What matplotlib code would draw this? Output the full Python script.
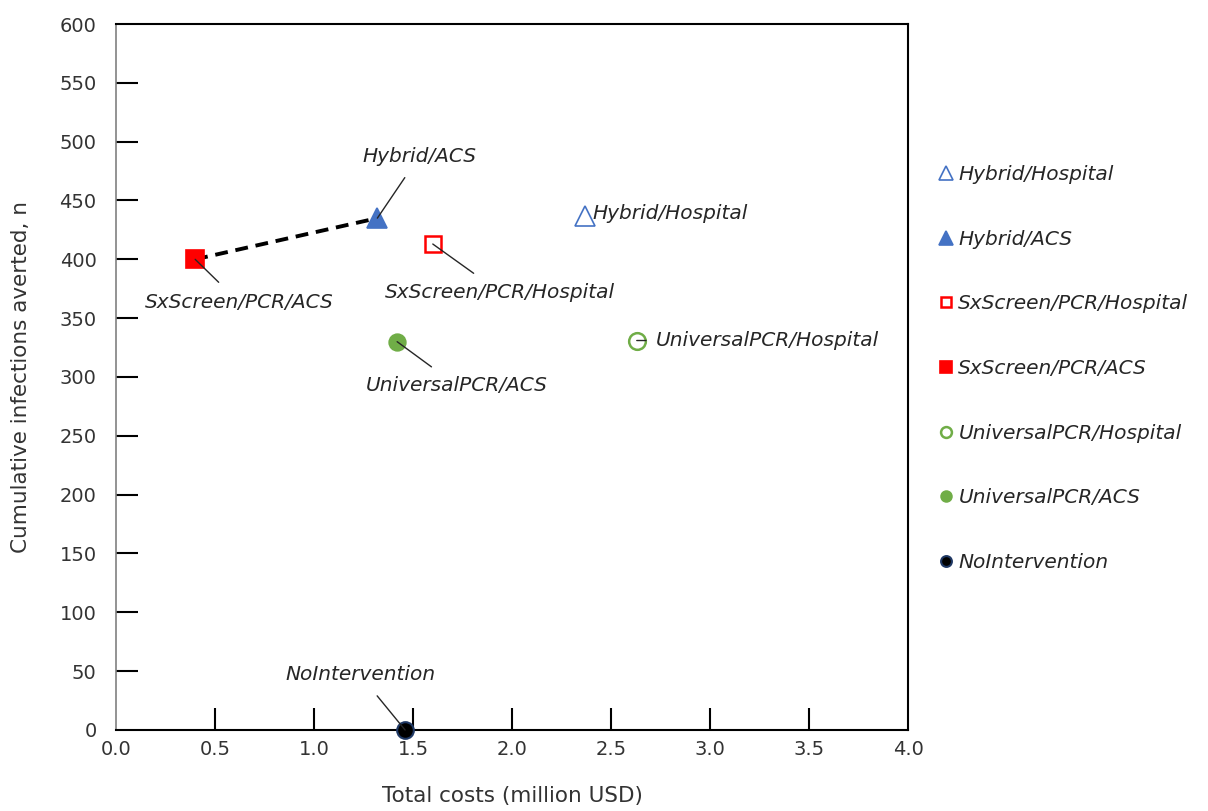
import matplotlib
matplotlib.use("Agg")
import matplotlib.pyplot as plt
from matplotlib.lines import Line2D

plt.rcParams['font.family'] = ['DejaVu Sans']

# strategies: (name, cost in million USD, infections averted)
names = ["Hybrid/Hospital", "Hybrid/ACS", "SxScreen/PCR/Hospital", "SxScreen/PCR/ACS",
         "UniversalPCR/Hospital", "UniversalPCR/ACS", "NoIntervention"]
costs = [2.37, 1.32, 1.60, 0.40, 2.63, 1.42, 1.46]
averted = [437, 435, 413, 400, 331, 330, 0]

# efficiency frontier
frontier = ["SxScreen/PCR/ACS", "Hybrid/ACS"]

blue = "#4472C4"
red = "#FF0000"
green = "#70AD47"
styles = {
    "Hybrid/Hospital":       dict(marker="^", mfc="white", mec=blue, ms=15, mew=1.2),
    "Hybrid/ACS":            dict(marker="^", mfc=blue, mec=blue, ms=15, mew=1.2),
    "SxScreen/PCR/Hospital": dict(marker="s", mfc="white", mec=red, ms=12, mew=1.8),
    "SxScreen/PCR/ACS":      dict(marker="s", mfc=red, mec=red, ms=13, mew=1.2),
    "UniversalPCR/Hospital": dict(marker="o", mfc="white", mec=green, ms=12, mew=1.8),
    "UniversalPCR/ACS":      dict(marker="o", mfc=green, mec=green, ms=12, mew=1.2),
    "NoIntervention":        dict(marker="o", mfc="black", mec="#1F3864", ms=12, mew=1.5),
}

# label offsets in pixels, alignment, leader line shrink (None = no line)
labels = {
    "Hybrid/ACS":            ((42, 62), "center", 8),
    "SxScreen/PCR/ACS":      ((44, -43), "center", 8),
    "SxScreen/PCR/Hospital": ((67, -48), "center", 8),
    "UniversalPCR/ACS":      ((60, -44), "center", 8),
    "NoIntervention":        ((-45, 55), "center", 8),
    "Hybrid/Hospital":       ((7, 2), "left", None),
    "UniversalPCR/Hospital": ((19, 0), "left", 5),
}

fig = plt.figure(figsize=(12.08, 8.11), dpi=100)
ax = fig.add_axes([0.096, 0.0999, 0.6557, 0.8705])

fx = [costs[names.index(n)] for n in frontier]
fy = [averted[names.index(n)] for n in frontier]
ax.plot(fx, fy, color="black", lw=2.8, ls=(0, (3.3, 2.0)), zorder=2)

handles = []
for n, x, y in zip(names, costs, averted):
    ax.plot([x], [y], ls="none", zorder=4, clip_on=False, **styles[n])
    st = dict(styles[n])
    st["ms"] = st["ms"] * 0.65
    handles.append(Line2D([], [], ls="none", label=n, **st))
    off, ha, shr = labels[n]
    ax.annotate(n, xy=(x, y), xytext=off, textcoords="offset pixels",
                ha=ha, va="center", fontsize=14.5, style="italic", color="#262626",
                arrowprops=dict(arrowstyle="-", color="#262626", lw=1.0,
                                shrinkA=shr, shrinkB=0) if shr is not None else None,
                zorder=5)

ax.set_xlim(0, 4.0)
ax.set_ylim(0, 600)
ax.set_xticks([0.0, 0.5, 1.0, 1.5, 2.0, 2.5, 3.0, 3.5, 4.0])
ax.set_xticklabels(["0.0", "0.5", "1.0", "1.5", "2.0", "2.5", "3.0", "3.5", "4.0"])
ax.set_yticks(range(0, 601, 50))
ax.tick_params(direction="in", length=16, width=1.5, color="black",
               labelsize=14, labelcolor="#333333")
ax.tick_params(axis="x", pad=7)
ax.tick_params(axis="y", pad=14)
# end ticks sit on the frame
for t in [ax.xaxis.get_major_ticks()[0], ax.xaxis.get_major_ticks()[-1],
          ax.yaxis.get_major_ticks()[0], ax.yaxis.get_major_ticks()[-1]]:
    t.tick1line.set_visible(False)

for s in ["top", "right", "bottom"]:
    ax.spines[s].set_color("black")
    ax.spines[s].set_linewidth(1.5)
ax.spines["left"].set_color("#808080")
ax.spines["left"].set_linewidth(1.2)

ax.set_xlabel("Total costs (million USD)", fontsize=15.5, color="#333333", labelpad=20)
ax.set_ylabel("Cumulative infections averted, n", fontsize=15.5, color="#333333", labelpad=20)

leg = fig.legend(handles=handles, loc="upper left", bbox_to_anchor=(0.76, 0.819),
                 frameon=False, labelspacing=2.27, handletextpad=0.1, handlelength=1.0,
                 prop=dict(size=14.5, style="italic"))
for t in leg.get_texts():
    t.set_color("#262626")

fig.savefig("out.png", dpi=100)
